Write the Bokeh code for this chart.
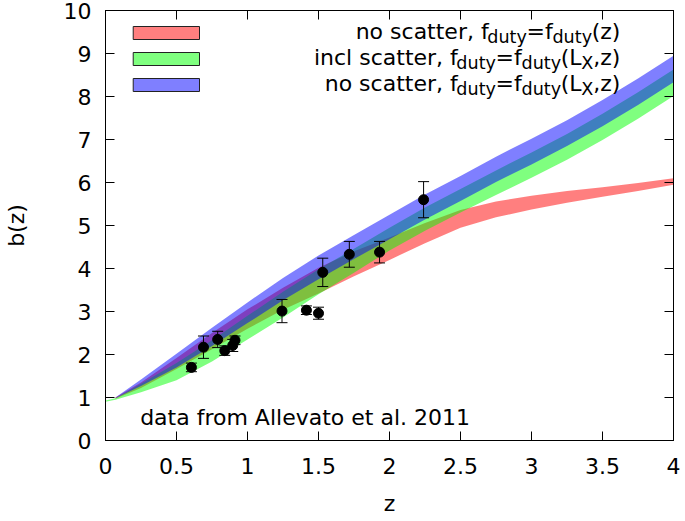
from bokeh.plotting import figure
from bokeh.models import (ColumnDataSource, Whisker, TeeHead, FixedTicker, LinearAxis,
                          Label, Range1d)
from bokeh.embed import file_html
from bokeh.resources import INLINE

# ---------------- data ----------------
z_band = [0.07, 0.25, 0.5, 0.75, 1.0, 1.25, 1.5, 1.75, 2.0, 2.25, 2.5, 2.75, 3.0, 3.25, 3.5, 3.75, 4.0]

red_hi = [1.00, 1.35, 1.92, 2.50, 3.05, 3.55, 4.02, 4.40, 4.72, 5.06, 5.36, 5.56, 5.69, 5.80, 5.89, 5.99, 6.10]
red_lo = [0.97, 1.22, 1.66, 2.12, 2.60, 3.04, 3.42, 3.82, 4.20, 4.59, 4.95, 5.19, 5.37, 5.53, 5.67, 5.80, 5.95]

z_green = [0.0, 0.07, 0.25, 0.5, 0.75, 1.0, 1.25, 1.5, 1.75, 2.0, 2.25, 2.5, 2.75, 3.0, 3.25, 3.5, 3.75, 4.0]
green_hi = [0.93, 0.98, 1.32, 1.80, 2.33, 2.90, 3.46, 3.98, 4.46, 4.95, 5.42, 5.85, 6.28, 6.70, 7.13, 7.60, 8.10, 8.63]
green_lo = [0.90, 0.95, 1.12, 1.40, 1.84, 2.35, 2.86, 3.40, 3.90, 4.42, 4.88, 5.30, 5.71, 6.11, 6.53, 6.99, 7.48, 8.01]

blue_hi = [1.00, 1.42, 2.02, 2.62, 3.21, 3.78, 4.30, 4.78, 5.25, 5.72, 6.15, 6.60, 7.02, 7.45, 7.92, 8.42, 8.95]
blue_lo = [0.98, 1.27, 1.70, 2.20, 2.73, 3.26, 3.75, 4.22, 4.68, 5.14, 5.57, 6.01, 6.42, 6.85, 7.31, 7.80, 8.33]

z_obs = [0.605, 0.69, 0.79, 0.84, 0.896, 0.912, 1.243, 1.415, 1.50, 1.53, 1.717, 1.93, 2.24]
b_obs = [1.70, 2.17, 2.35, 2.09, 2.21, 2.33, 3.01, 3.03, 2.96, 3.91, 4.33, 4.38, 5.60]
b_err = [0.10, 0.26, 0.19, 0.11, 0.14, 0.10, 0.27, 0.10, 0.14, 0.33, 0.30, 0.25, 0.42]

x_ticks = [0, 0.5, 1, 1.5, 2, 2.5, 3, 3.5, 4]
x_tick_labels = ["0", "0.5", "1", "1.5", "2", "2.5", "3", "3.5", "4"]
y_ticks = [0, 1, 2, 3, 4, 5, 6, 7, 8, 9, 10]
y_tick_labels = ["0", "1", "2", "3", "4", "5", "6", "7", "8", "9", "10"]

legend_lines = [
    [("no scatter, f", 0), ("duty", 1), ("=f", 0), ("duty", 1), ("(z)", 0)],
    [("incl scatter, f", 0), ("duty", 1), ("=f", 0), ("duty", 1), ("(L", 0), ("X", 1), (",z)", 0)],
    [("no scatter, f", 0), ("duty", 1), ("=f", 0), ("duty", 1), ("(L", 0), ("X", 1), (",z)", 0)],
]
band_colors = ["#ff0000", "#00ff00", "#0000ff"]
note_text = "data from Allevato et al. 2011"

# ---------------- layout ----------------
FONT = "DejaVu Sans"
FS = 22
SUB = 0.8 * FS
W, H = 685, 521
FL, FR, FT, FB = 99, 673, 10, 440          # frame edges in figure pixels

def dx(px):   # figure px -> data x
    return (px - FL) / (FR - FL) * 4.0

def dy(py):   # figure px -> data y
    return (FB - py) / (FB - FT) * 10.0

ADV = {' ': 651, ',': 651, '=': 1716, '(': 799, ')': 799, 'a': 1255, 'c': 1126, 'd': 1300,
       'e': 1260, 'f': 721, 'i': 569, 'l': 569, 'n': 1298, 'o': 1253, 'r': 842, 's': 1067,
       't': 803, 'u': 1298, 'y': 1212, 'z': 1075, 'L': 1141, 'X': 1401}

def twidth(s, size):
    return sum(ADV.get(c, 1200) for c in s) / 2048.0 * size

p = figure(width=W, height=H, x_range=Range1d(0, 4), y_range=Range1d(0, 10),
           output_backend="svg", toolbar_location=None,
           min_border_left=FL, min_border_right=W - FR, min_border_top=FT, min_border_bottom=H - FB)
p.xgrid.visible = False
p.ygrid.visible = False
p.outline_line_color = "black"
p.outline_line_width = 1
p.background_fill_color = "white"
p.border_fill_color = "white"

def style_axis(ax, ticks, labels):
    ax.ticker = FixedTicker(ticks=ticks)
    ax.major_tick_in = 9
    ax.major_tick_out = 0
    ax.minor_tick_line_color = None
    ax.major_tick_line_color = "black"
    ax.axis_line_color = "black"
    ax.major_label_text_font = FONT
    ax.major_label_text_color = "black"
    if labels is not None:
        ax.major_label_text_font_size = f"{FS}px"
        ax.major_label_overrides = {t: s for t, s in zip(ticks, labels)}
    else:
        ax.major_label_overrides = {t: "" for t in ticks}
        ax.major_label_text_font_size = "1px"
        ax.major_label_standoff = 0

xa = p.xaxis[0]
style_axis(xa, x_ticks, x_tick_labels)
xa.major_label_standoff = 17
xa.axis_label = "z"
xa.axis_label_text_font = FONT
xa.axis_label_text_font_size = f"{FS}px"
xa.axis_label_text_font_style = "normal"
xa.axis_label_text_color = "black"
xa.axis_label_standoff = 14

ya = p.yaxis[0]
style_axis(ya, y_ticks, y_tick_labels)
ya.major_label_standoff = 14
ya.axis_label = "b(z)"
ya.axis_label_text_font = FONT
ya.axis_label_text_font_size = f"{FS}px"
ya.axis_label_text_font_style = "normal"
ya.axis_label_text_color = "black"
ya.axis_label_standoff = 32

top = LinearAxis()
style_axis(top, x_ticks, None)
p.add_layout(top, "above")
right = LinearAxis()
style_axis(right, y_ticks, None)
p.add_layout(right, "right")

# ---------------- bands ----------------
p.varea(x=z_band, y1=red_lo, y2=red_hi, fill_color=band_colors[0], fill_alpha=0.5)
p.varea(x=z_green, y1=green_lo, y2=green_hi, fill_color=band_colors[1], fill_alpha=0.5)
p.varea(x=z_band, y1=blue_lo, y2=blue_hi, fill_color=band_colors[2], fill_alpha=0.5)

# ---------------- data points ----------------
src = ColumnDataSource(dict(z=z_obs, b=b_obs,
                            lo=[b - e for b, e in zip(b_obs, b_err)],
                            hi=[b + e for b, e in zip(b_obs, b_err)]))
wh = Whisker(base="z", upper="hi", lower="lo", source=src, line_color="black", line_width=1,
             upper_head=TeeHead(size=11, line_color="black", line_width=1),
             lower_head=TeeHead(size=11, line_color="black", line_width=1))
wh.level = "overlay"
p.add_layout(wh)
p.scatter("z", "b", source=src, size=10, fill_color="black", line_color="black")

# ---------------- legend (custom, gnuplot style) ----------------
sw_x0, sw_x1 = 127, 194
sw_rows = [(26, 39), (52, 65), (78, 91)]
baselines = [31, 57, 83]
right_end = 619
for i, line in enumerate(legend_lines):
    y0, y1 = sw_rows[i]
    p.quad(left=dx(sw_x0), right=dx(sw_x1), bottom=dy(y1), top=dy(y0),
           fill_color=band_colors[i], fill_alpha=0.5, line_color="#222222", line_width=1)
    total = sum(twidth(t, SUB if s else FS) for t, s in line)
    x = right_end - total
    for t, s in line:
        size = SUB if s else FS
        base = baselines[i] + (5 if s else 0)
        p.add_layout(Label(x=dx(x), y=dy(base), text=t, text_font=FONT,
                           text_font_size=f"{size:.1f}px", text_baseline="alphabetic",
                           text_align="left", text_color="black"))
        x += twidth(t, size)

p.add_layout(Label(x=dx(134), y=dy(417), text=note_text, text_font=FONT,
                   text_font_size=f"{FS}px", text_baseline="alphabetic", text_align="left",
                   text_color="black"))

open("out.html", "w").write(file_html(p, INLINE))
